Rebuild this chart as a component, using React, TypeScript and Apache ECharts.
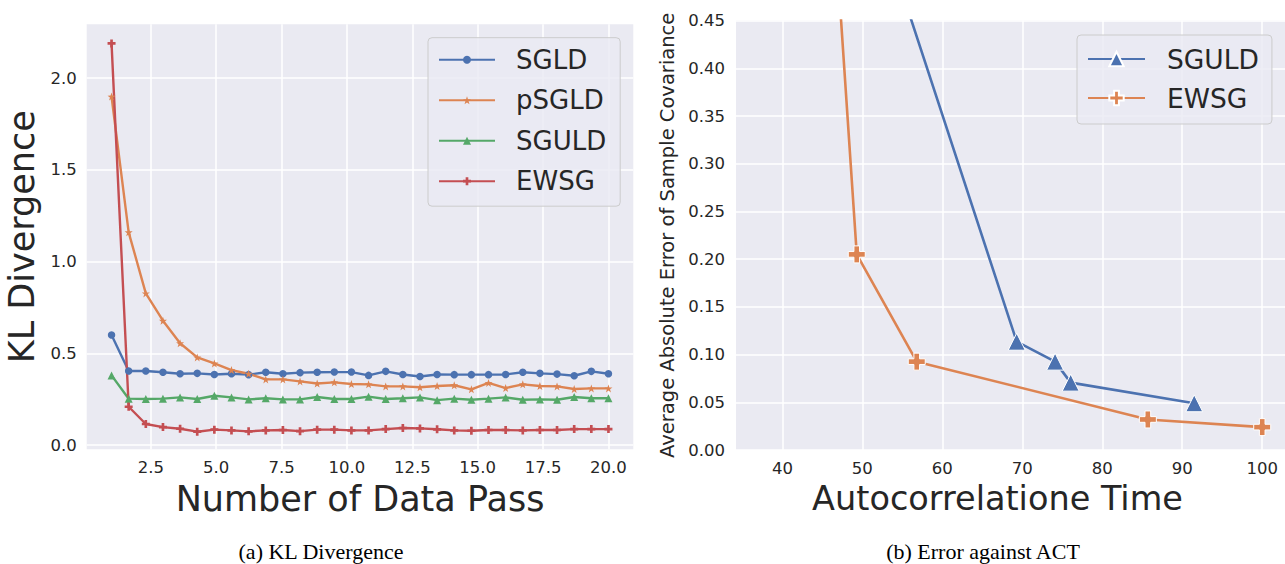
import React, { useEffect, useRef } from 'react';
import * as echarts from 'echarts';

// ---- Data: (a) KL Divergence vs number of data passes ----
const dataPass = [1, 1.655, 2.31, 2.966, 3.621, 4.276, 4.931, 5.586, 6.241, 6.897, 7.552, 8.207, 8.862, 9.517, 10.172, 10.828, 11.483, 12.138, 12.793, 13.448, 14.103, 14.759, 15.414, 16.069, 16.724, 17.379, 18.034, 18.69, 19.345, 20];
const klSGLD = [0.6, 0.404, 0.404, 0.397, 0.389, 0.391, 0.385, 0.389, 0.384, 0.397, 0.389, 0.395, 0.397, 0.398, 0.398, 0.38, 0.402, 0.385, 0.374, 0.385, 0.384, 0.384, 0.384, 0.385, 0.397, 0.391, 0.387, 0.378, 0.402, 0.389];
const klPSGLD = [1.9, 1.16, 0.827, 0.678, 0.555, 0.478, 0.445, 0.409, 0.389, 0.358, 0.358, 0.347, 0.336, 0.342, 0.333, 0.331, 0.32, 0.32, 0.315, 0.322, 0.326, 0.304, 0.339, 0.311, 0.331, 0.322, 0.32, 0.306, 0.309, 0.309];
const klSGULD = [0.38, 0.253, 0.251, 0.253, 0.26, 0.251, 0.269, 0.26, 0.249, 0.255, 0.249, 0.249, 0.262, 0.251, 0.251, 0.264, 0.251, 0.255, 0.26, 0.245, 0.253, 0.247, 0.253, 0.26, 0.247, 0.249, 0.247, 0.262, 0.255, 0.255];
const klEWSG = [2.19, 0.209, 0.115, 0.098, 0.089, 0.073, 0.084, 0.08, 0.075, 0.08, 0.082, 0.076, 0.084, 0.084, 0.08, 0.08, 0.087, 0.093, 0.091, 0.086, 0.08, 0.078, 0.082, 0.082, 0.08, 0.082, 0.082, 0.087, 0.087, 0.087];
const klXTicks = [2.5, 5, 7.5, 10, 12.5, 15, 17.5, 20];
const klYTicks = [0, 0.5, 1, 1.5, 2];

// ---- Data: (b) Error against autocorrelation time ----
const actSGULD = [45.0, 69.3, 74.1, 76.05, 91.5];
const errSGULD = [0.735, 0.1135, 0.0926, 0.0706, 0.049];
const actEWSG = [37.3, 49.3, 56.8, 85.7, 100];
const errEWSG = [1.705, 0.205, 0.0926, 0.032, 0.024];
const actXTicks = [40, 50, 60, 70, 80, 90, 100];

const C_BLUE = '#4C72B0';
const C_ORANGE = '#DD8452';
const C_GREEN = '#55A868';
const C_RED = '#C44E52';
const TXT = '#262626';
const BG = '#EAEAF2';
const FONT = 'DejaVu Sans';

const STAR = 'path://M0,-10 L2.35,-3.24 L9.51,-3.09 L3.8,1.24 L5.88,8.09 L0,4 L-5.88,8.09 L-3.8,1.24 L-9.51,-3.09 L-2.35,-3.24 Z';
const PLUS = 'path://M-1,-3 L1,-3 L1,-1 L3,-1 L3,1 L1,1 L1,3 L-1,3 L-1,1 L-3,1 L-3,-1 L-1,-1 Z';

const zip = (xs: number[], ys: number[]) => xs.map((x, i) => [x, ys[i]]);

function leftOption(): any {
  const mk = (name: string, ys: number[], color: string, symbol: string, size: number) => ({
    type: 'line',
    name,
    data: zip(dataPass, ys),
    symbol,
    symbolSize: size,
    showSymbol: true,
    lineStyle: { color, width: 2.4 },
    itemStyle: { color, borderWidth: 0 },
    clip: true,
    z: 3,
  });
  return {
    animation: false,
    backgroundColor: 'transparent',
    grid: { left: 86.7, top: 24.3, width: 546.6, height: 425, containLabel: false, outerBoundsMode: 'none', backgroundColor: BG, show: true, borderWidth: 0 },
    xAxis: {
      type: 'value',
      min: 0.05,
      max: 20.95,
      axisLine: { show: false },
      axisTick: { show: false, customValues: klXTicks },
      axisLabel: { customValues: klXTicks, formatter: (v: number) => v.toFixed(1), color: TXT, fontSize: 16.5, fontFamily: FONT, margin: 10 },
      splitLine: { show: true, lineStyle: { color: '#ffffff', width: 1.5 } },
      name: 'Number of Data Pass',
      nameLocation: 'middle',
      nameGap: 26,
      nameTextStyle: { color: TXT, fontSize: 35, fontFamily: FONT },
    },
    yAxis: {
      type: 'value',
      min: -0.023,
      max: 2.294,
      axisLine: { show: false },
      axisTick: { show: false, customValues: klYTicks },
      axisLabel: { customValues: klYTicks, formatter: (v: number) => v.toFixed(1), color: TXT, fontSize: 16.5, fontFamily: FONT, margin: 10 },
      splitLine: { show: true, lineStyle: { color: '#ffffff', width: 1.5 } },
      name: 'KL Divergence',
      nameLocation: 'middle',
      nameRotate: 90,
      nameGap: 44,
      nameTextStyle: { color: TXT, fontSize: 35, fontFamily: FONT },
    },
    legend: {
      orient: 'vertical',
      left: 428,
      top: 37.7,
      padding: [7, 14, 10, 10],
      itemWidth: 56,
      itemHeight: 10,
      itemGap: 10.5,
      selectedMode: false,
      backgroundColor: 'rgba(234,234,242,0.8)',
      borderColor: '#cccccc',
      borderWidth: 1,
      borderRadius: 4,
      textStyle: { color: TXT, fontSize: 26, fontFamily: FONT, lineHeight: 30, padding: [0, 0, 0, 16] },
      data: ['SGLD', 'pSGLD', 'SGULD', 'EWSG'],
    },
    series: [
      mk('SGLD', klSGLD, C_BLUE, 'circle', 7.5),
      mk('pSGLD', klPSGLD, C_ORANGE, STAR, 8),
      mk('SGULD', klSGULD, C_GREEN, 'triangle', 8),
      mk('EWSG', klEWSG, C_RED, PLUS, 8),
    ],
    graphic: [
      {
        type: 'text',
        x: 321,
        y: 551,
        style: { text: '(a) KL Divergence', fill: '#000', font: '22px "Liberation Serif"', align: 'center', verticalAlign: 'middle' },
      },
    ],
  };
}

function rightOption(): any {
  const mk = (name: string, xs: number[], ys: number[], color: string, symbol: string, size: number) => ({
    type: 'line',
    name,
    data: zip(xs, ys),
    symbol,
    symbolSize: size,
    showSymbol: true,
    lineStyle: { color, width: 2.6 },
    itemStyle: { color, borderColor: '#ffffff', borderWidth: 1 },
    clip: true,
    z: 3,
  });
  return {
    animation: false,
    backgroundColor: 'transparent',
    grid: { left: 91, top: 20.6, width: 551, height: 429.4, containLabel: false, outerBoundsMode: 'none', backgroundColor: BG, show: true, borderWidth: 0 },
    xAxis: {
      type: 'value',
      min: 34.2,
      max: 103.1,
      axisLine: { show: false },
      axisTick: { show: false, customValues: actXTicks },
      axisLabel: { customValues: actXTicks, formatter: (v: number) => String(v), color: TXT, fontSize: 16.5, fontFamily: FONT, margin: 10 },
      splitLine: { show: true, lineStyle: { color: '#ffffff', width: 1.5 } },
      name: 'Autocorrelatione Time',
      nameLocation: 'middle',
      nameGap: 26,
      nameTextStyle: { color: TXT, fontSize: 33.5, fontFamily: FONT, padding: [0, 28, 0, 0] },
    },
    yAxis: {
      type: 'value',
      min: 0,
      max: 0.45,
      interval: 0.05,
      axisLine: { show: false },
      axisTick: { show: false },
      axisLabel: { formatter: (v: number) => v.toFixed(2), color: TXT, fontSize: 16.5, fontFamily: FONT, margin: 11 },
      splitLine: { show: true, lineStyle: { color: '#ffffff', width: 1.5 } },
      name: 'Average Absolute Error of Sample Covariance',
      nameLocation: 'middle',
      nameRotate: 90,
      nameGap: 53,
      nameTextStyle: { color: TXT, fontSize: 19.5, fontFamily: FONT },
    },
    legend: {
      orient: 'vertical',
      left: 432,
      top: 35,
      padding: [9, 13, 11, 10],
      itemWidth: 57,
      itemHeight: 18,
      itemGap: 9,
      selectedMode: false,
      backgroundColor: 'rgba(234,234,242,0.8)',
      borderColor: '#cccccc',
      borderWidth: 1,
      borderRadius: 4,
      textStyle: { color: TXT, fontSize: 26.5, fontFamily: FONT, lineHeight: 30, padding: [0, 0, 0, 17] },
      data: ['SGULD', 'EWSG'],
    },
    series: [
      mk('SGULD', actSGULD, errSGULD, C_BLUE, 'triangle', 17),
      mk('EWSG', actEWSG, errEWSG, C_ORANGE, PLUS, 17),
    ],
    graphic: [
      {
        type: 'text',
        x: 983 - 645,
        y: 551,
        style: { text: '(b) Error against ACT', fill: '#000', font: '22px "Liberation Serif"', align: 'center', verticalAlign: 'middle' },
      },
    ],
  };
}

function Chart({ option, style }: { option: any; style: React.CSSProperties }) {
  const ref = useRef<HTMLDivElement>(null);
  useEffect(() => {
    if (!ref.current) return;
    const chart = echarts.init(ref.current, undefined, { renderer: 'svg' });
    chart.setOption(option);
    return () => chart.dispose();
  }, []);
  return <div ref={ref} style={style} />;
}

export default function App() {
  return (
    <div style={{ position: 'absolute', left: 0, top: 0, width: 1285, height: 564, overflow: 'hidden', background: '#ffffff' }}>
      <Chart option={leftOption()} style={{ position: 'absolute', left: 0, top: 0, width: 645, height: 564 }} />
      <Chart option={rightOption()} style={{ position: 'absolute', left: 645, top: 0, width: 645, height: 564 }} />
    </div>
  );
}
